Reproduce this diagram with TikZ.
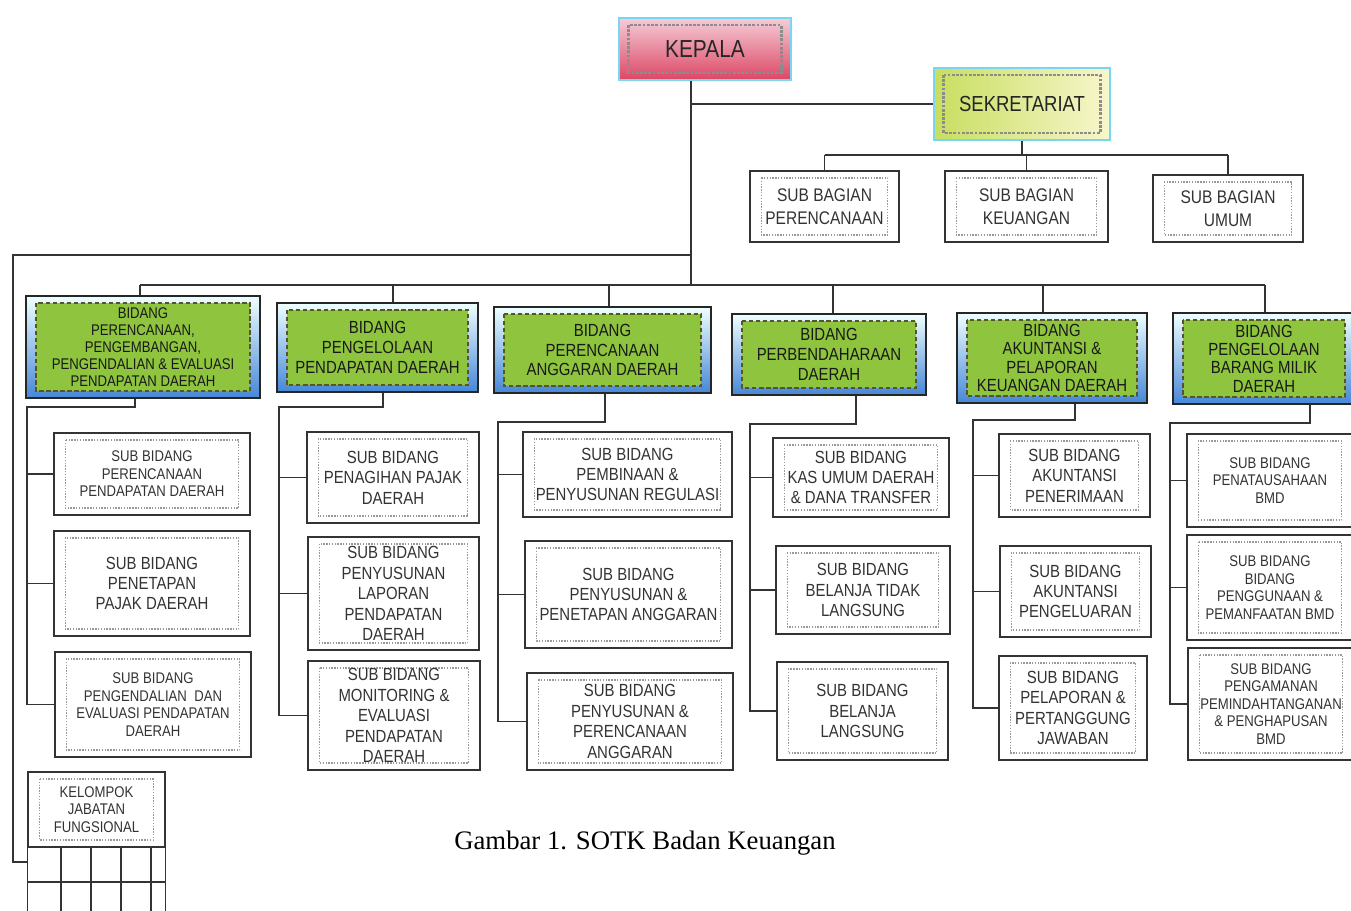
\documentclass[tikz,border=0pt]{standalone}
\usepackage{fontspec}
\setmainfont{Liberation Serif}
\newfontfamily\narrowfont[FakeStretch=0.85]{Liberation Sans}
\usetikzlibrary{positioning}
\newlength{\pxu}
\setlength{\pxu}{0.025cm}
\definecolor{bidanggreen}{RGB}{142,196,62}
\definecolor{framecyan}{RGB}{120,215,240}
\definecolor{kepalatop}{RGB}{245,205,215}
\definecolor{kepalabottom}{RGB}{220,70,100}
\definecolor{sekleft}{RGB}{200,222,95}
\definecolor{sekright}{RGB}{248,246,205}
\definecolor{bidangblue}{RGB}{70,135,215}

\begin{document}
\begin{tikzpicture}[x=0.025cm, y=-0.025cm]

\path[use as bounding box, clip] (0,0) rectangle (1351,911);

% Define block styles
\tikzstyle{headbox} = [rectangle, draw=framecyan, line width=2pt, text centered, text=black!85, font=\narrowfont\fontsize{17.5}{20}\selectfont, path picture={\draw[black!45, densely dotted] ([shift={(7pt,-5pt)}]path picture bounding box.north west) rectangle ([shift={(-7pt,5pt)}]path picture bounding box.south east);}]
\tikzstyle{bidangbox} = [rectangle, draw=black!85, line width=1pt, align=center, text=black!90, top color=cyan!6, bottom color=bidangblue, font=\narrowfont\fontsize{12.5}{14}\selectfont, path picture={\fill[bidanggreen, draw=olive!50!black, densely dashed] ([shift={(7pt,-5pt)}]path picture bounding box.north west) rectangle ([shift={(-7pt,5pt)}]path picture bounding box.south east);}]
\tikzstyle{subbox} = [rectangle, draw=black!80, line width=1pt, fill=white, align=center, text=black!80, font=\narrowfont\fontsize{12.5}{14.5}\selectfont, path picture={\draw[black!40, densely dotted] ([shift={(8pt,-5pt)}]path picture bounding box.north west) rectangle ([shift={(-8pt,5pt)}]path picture bounding box.south east);}]
\tikzstyle{smalltext} = [font=\narrowfont\fontsize{11}{12.5}\selectfont]
\tikzstyle{bagianbox} = [subbox, font=\narrowfont\fontsize{13}{16.5}\selectfont]
\tikzstyle{conn} = [line width=0.8pt, black!80]

% Top
\node (kepala) [headbox, top color=kepalatop, bottom color=kepalabottom, minimum width=172\pxu, minimum height=62\pxu] at (705,49) {KEPALA};
\node (sekretariat) [headbox, left color=sekleft, right color=sekright, font=\narrowfont\fontsize{15.5}{18}\selectfont, minimum width=176\pxu, minimum height=72\pxu] at (1022,104) {SEKRETARIAT};

\node (subbag1) [bagianbox, minimum width=149\pxu, minimum height=71\pxu] at (824.5,206.5) {SUB BAGIAN\\PERENCANAAN};
\node (subbag2) [bagianbox, minimum width=163\pxu, minimum height=71\pxu] at (1026.5,206.5) {SUB BAGIAN\\KEUANGAN};
\node (subbag3) [bagianbox, minimum width=150\pxu, minimum height=67\pxu] at (1228,208.5) {SUB BAGIAN\\UMUM};

% Bidang
\node (bidang1) [bidangbox, font=\narrowfont\fontsize{11}{12}\selectfont, minimum width=234\pxu, minimum height=102\pxu] at (143,347) {BIDANG\\PERENCANAAN,\\PENGEMBANGAN,\\PENGENDALIAN \& EVALUASI\\PENDAPATAN DAERAH};
\node (bidang2) [bidangbox, minimum width=201\pxu, minimum height=89\pxu] at (377.5,347.5) {BIDANG\\PENGELOLAAN\\PENDAPATAN DAERAH};
\node (bidang3) [bidangbox, minimum width=217\pxu, minimum height=86\pxu] at (602.5,350) {BIDANG\\PERENCANAAN\\ANGGARAN DAERAH};
\node (bidang4) [bidangbox, minimum width=194\pxu, minimum height=81\pxu] at (829,354.5) {BIDANG\\PERBENDAHARAAN\\DAERAH};
\node (bidang5) [bidangbox, font=\narrowfont\fontsize{12.5}{13}\selectfont, minimum width=190\pxu, minimum height=90\pxu] at (1052,358) {BIDANG\\AKUNTANSI \&\\PELAPORAN\\KEUANGAN DAERAH};
\node (bidang6) [bidangbox, font=\narrowfont\fontsize{12.5}{13}\selectfont, minimum width=182\pxu, minimum height=91\pxu] at (1264,358.5) {BIDANG\\PENGELOLAAN\\BARANG MILIK\\DAERAH};

% Sub bidang, column 1
\node (sb11) [subbox, smalltext, minimum width=196\pxu, minimum height=82\pxu] at (152,474) {SUB BIDANG\\PERENCANAAN\\PENDAPATAN DAERAH};
\node (sb12) [subbox, minimum width=196\pxu, minimum height=105\pxu] at (152,583.5) {SUB BIDANG\\PENETAPAN\\PAJAK DAERAH};
\node (sb13) [subbox, smalltext, minimum width=196\pxu, minimum height=105\pxu] at (153,704.5) {SUB BIDANG\\PENGENDALIAN\ \ DAN\\EVALUASI PENDAPATAN\\DAERAH};
\node (kelompok) [subbox, smalltext, minimum width=137\pxu, minimum height=75\pxu] at (96.5,809.5) {KELOMPOK\\JABATAN\\FUNGSIONAL};

% Sub bidang, column 2
\node (sb21) [subbox, minimum width=172\pxu, minimum height=91\pxu] at (393,477.5) {SUB BIDANG\\PENAGIHAN PAJAK\\DAERAH};
\node (sb22) [subbox, minimum width=171\pxu, minimum height=113\pxu] at (393.5,593.5) {SUB BIDANG\\PENYUSUNAN\\LAPORAN\\PENDAPATAN\\DAERAH};
\node (sb23) [subbox, minimum width=172\pxu, minimum height=109\pxu] at (394,715.5) {SUB BIDANG\\MONITORING \&\\EVALUASI\\PENDAPATAN\\DAERAH};

% Sub bidang, column 3
\node (sb31) [subbox, minimum width=209\pxu, minimum height=85\pxu] at (627.5,474.5) {SUB BIDANG\\PEMBINAAN \&\\PENYUSUNAN REGULASI};
\node (sb32) [subbox, minimum width=207\pxu, minimum height=107\pxu] at (628.5,594.5) {SUB BIDANG\\PENYUSUNAN \&\\PENETAPAN ANGGARAN};
\node (sb33) [subbox, minimum width=206\pxu, minimum height=97\pxu] at (630,721.5) {SUB BIDANG\\PENYUSUNAN \&\\PERENCANAAN\\ANGGARAN};

% Sub bidang, column 4
\node (sb41) [subbox, minimum width=176\pxu, minimum height=79\pxu] at (861,477.5) {SUB BIDANG\\KAS UMUM DAERAH\\\& DANA TRANSFER};
\node (sb42) [subbox, minimum width=174\pxu, minimum height=88\pxu] at (863,590) {SUB BIDANG\\BELANJA TIDAK\\LANGSUNG};
\node (sb43) [subbox, minimum width=171\pxu, minimum height=98\pxu] at (862.5,711) {SUB BIDANG\\BELANJA\\LANGSUNG};

% Sub bidang, column 5
\node (sb51) [subbox, minimum width=151\pxu, minimum height=83\pxu] at (1074.5,475.5) {SUB BIDANG\\AKUNTANSI\\PENERIMAAN};
\node (sb52) [subbox, minimum width=151\pxu, minimum height=91\pxu] at (1075.5,591.5) {SUB BIDANG\\AKUNTANSI\\PENGELUARAN};
\node (sb53) [subbox, minimum width=148\pxu, minimum height=104\pxu] at (1073,708) {SUB BIDANG\\PELAPORAN \&\\PERTANGGUNG\\JAWABAN};

% Sub bidang, column 6
\node (sb61) [subbox, smalltext, minimum width=166\pxu, minimum height=93\pxu] at (1270,480.5) {SUB BIDANG\\PENATAUSAHAAN\\BMD};
\node (sb62) [subbox, smalltext, minimum width=166\pxu, minimum height=105\pxu] at (1270,587.5) {SUB BIDANG\\BIDANG\\PENGGUNAAN \&\\PEMANFAATAN BMD};
\node (sb63) [subbox, smalltext, minimum width=166\pxu, minimum height=112\pxu] at (1271,704) {SUB BIDANG\\PENGAMANAN\\PEMINDAHTANGANAN\\\& PENGHAPUSAN\\BMD};

% Grid under kelompok jabatan fungsional
\draw[conn] (kelompok.south west) -- ++(0,80) (kelompok.south east) -- ++(0,80);
\foreach \gx in {61,91,121,151}
  \draw[conn] (\gx,847) -- (\gx,915);
\draw[conn] (28,882) -- (165,882);

% Caption
\node (caption) [font=\fontsize{19}{22}\selectfont] at (645,843) {Gambar 1. SOTK Badan Keuangan};

% Lines
\coordinate (trunk) at (691,255);
\coordinate (fungs) at (13,862);
\coordinate (sekbus) at (1022,155);
\draw[conn] (kepala.south -| trunk) -- (trunk) -- (trunk |- 0,285);
\draw[conn] (trunk |- sekretariat.west) -- (sekretariat.west);
\draw[conn] (trunk) -| (fungs) -- (fungs -| kelompok.west);

\draw[conn] (sekretariat.south) -- (sekbus);
\draw[conn] (subbag1.north |- sekbus) -- (subbag3.north |- sekbus);
\foreach \s in {1,2,3}
  \draw[conn] (subbag\s.north |- sekbus) -- (subbag\s.north);

\foreach \c/\tx in {1/140, 2/393, 3/609, 4/833, 5/1043, 6/1265} {
  \coordinate (top\c) at (\tx,285);
  \draw[conn] (top\c) -- (top\c |- bidang\c.north);
}
\draw[conn] (top1) -- (top6);

\foreach \c/\dx/\x/\y in {1/135/27/407, 2/383/279/407, 3/605/498/422, 4/856/750/424, 5/1075/973/420, 6/1310/1170/423} {
  \coordinate (dr\c) at (\dx,\y);
  \coordinate (sp\c) at (\x,\y);
  \draw[conn] (bidang\c.south -| dr\c) -- (dr\c) -- (sp\c) |- (sb\c3.west);
  \draw[conn] (sp\c |- sb\c1.west) -- (sb\c1.west);
  \draw[conn] (sp\c |- sb\c2.west) -- (sb\c2.west);
}

\end{tikzpicture}
\end{document}
